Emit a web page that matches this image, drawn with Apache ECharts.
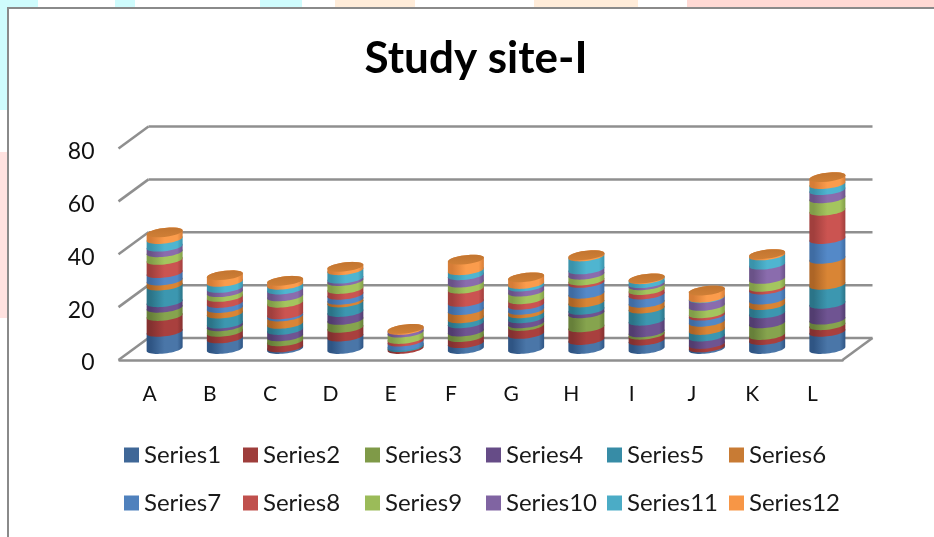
<!DOCTYPE html>
<html>
<head>
<meta charset="utf-8">
<style>html,body{margin:0;padding:0;background:#fff}#chart{width:934px;height:537px}</style>
<script src="https://cdn.jsdelivr.net/npm/echarts@6/dist/echarts.min.js"></script>
</head>
<body>
<div id="chart"></div>
<script>
// Categories and per-site values for each series
const categories = ['A','B','C','D','E','F','G','H','I','J','K','L'];
const yTicks = [0,20,40,60,80];
const series1  = [6.5,4.0,0.6,4.7,0.0,2.2,5.7,3.4,3.2,0.6,3.4,6.5];
const series2  = [6.0,2.5,2.3,3.3,0.7,2.3,3.0,4.8,2.2,1.3,1.9,2.5];
const series3  = [3.1,2.1,1.9,3.0,0.0,2.1,1.0,5.3,0.9,0.0,4.4,2.1];
const series4  = [2.1,1.0,2.4,3.0,0.0,3.1,1.9,1.3,4.4,2.8,3.8,6.0];
const series5  = [6.3,3.8,2.3,3.6,0.6,1.9,1.9,2.8,4.6,2.5,3.1,7.2];
const series6  = [1.9,2.1,2.8,1.0,0.0,3.1,1.3,3.3,2.2,3.1,2.1,9.8];
const series7  = [2.8,1.9,0.8,1.9,1.5,3.1,1.9,4.1,3.1,2.3,3.8,7.5];
const series8  = [5.0,2.3,4.4,2.2,1.0,5.0,2.1,0.9,1.7,0.9,1.0,10.7];
const series9  = [2.9,1.8,2.4,3.0,2.4,2.3,2.9,2.2,1.8,2.8,3.0,4.7];
const series10 = [2.1,1.6,2.6,0.9,1.0,2.8,1.9,2.0,0.8,2.9,5.4,3.1];
const series11 = [2.9,2.3,1.8,3.2,0.0,1.9,1.0,4.9,1.5,0.2,3.5,2.3];
const series12 = [2.5,2.5,1.5,1.3,0.4,4.0,2.5,0.5,0.3,2.7,0.5,2.6];
const seriesValues = [series1,series2,series3,series4,series5,series6,series7,series8,series9,series10,series11,series12];

const seriesNames = seriesValues.map((_, i) => 'Series' + (i + 1));
// [edge shade, mid shade] of each cylinder band
const bandColors = [
  ['#2f5584','#4a76a8'],['#843130','#a9403e'],['#67803a','#86a44e'],['#523d70','#6f5492'],
  ['#2b7488','#3c97b0'],['#ad6526','#d98535'],['#3f6ca3','#5489c8'],['#a13f3d','#cb5451'],
  ['#829e49','#a4c55e'],['#6a5288','#8a6cad'],['#3a93ab','#4fb5d0'],['#d67d37','#fb9c4c']
];
const legendColors = ['#3f6797','#9e3d3b','#7f9a48','#664c87','#378ca6','#c87b34','#4f81bd','#c0504d','#9bbb59','#8064a2','#4bacc6','#f79646'];
const capColor = ['#c27530','#cf7f36'];

// Oblique projection: the floor recedes by this much from front to back
const DEPTH_X = 30, DEPTH_Y = -22;
const BAR_DEPTH = 0.5, RX = 18, RY = 4.5, SHEAR = 2;
const GRID = {left: 119.5, width: 723, top: 148.5, height: 211.5};

// Points along a sheared rim; positive sine is the side facing the viewer
function rimPoints(c, from, to) {
  const pts = [];
  for (let k = 0; k <= 24; k++) {
    const t = from + (to - from) * k / 24;
    const cos = Math.cos(t);
    pts.push([c[0] + RX * cos, c[1] + RY * Math.sin(t) - SHEAR * cos]);
  }
  return pts;
}

function sideGradient(pair) {
  return new echarts.graphic.LinearGradient(0, 0, 1, 0, [
    {offset: 0, color: pair[0]},
    {offset: 0.12, color: pair[0]},
    {offset: 0.5, color: pair[1]},
    {offset: 0.85, color: pair[1]},
    {offset: 1, color: pair[0]}
  ]);
}

function cylinderBand(seriesIndex) {
  return function (params, api) {
    const base = api.value(1), top = api.value(2);
    if (top <= base) return null;
    const offX = DEPTH_X * BAR_DEPTH, offY = DEPTH_Y * BAR_DEPTH;
    const b = api.coord([api.value(0), base]);
    const t = api.coord([api.value(0), top]);
    const bc = [b[0] + offX, b[1] + offY];
    const tc = [t[0] + offX, t[1] + offY];
    // Front of the lower rim, then the back of the upper rim
    const outline = rimPoints(bc, Math.PI, 0).concat(rimPoints(tc, 0, -Math.PI));
    const children = [{
      type: 'polygon',
      shape: {points: outline},
      style: {fill: sideGradient(bandColors[seriesIndex])}
    }];
    if (seriesIndex === 11) {
      children.push({
        type: 'polygon',
        shape: {points: rimPoints(tc, 0, Math.PI * 2)},
        style: {
          fill: new echarts.graphic.LinearGradient(0, 0, 0, 1, [
            {offset: 0, color: capColor[0]},
            {offset: 1, color: capColor[1]}
          ])
        }
      });
    }
    return {type: 'group', children: children};
  };
}

// Cumulative stacking per category
const running = categories.map(() => 0);
const bandSeries = seriesValues.map((values, s) => {
  const data = values.map((v, i) => {
    const row = [i, running[i], running[i] + v];
    running[i] += v;
    return row;
  });
  return {
    type: 'custom',
    name: seriesNames[s],
    renderItem: cylinderBand(s),
    encode: {x: 0, y: [1, 2]},
    itemStyle: {color: legendColors[s]},
    data: data,
    z: 10 + s,
    silent: true
  };
});

// Back-wall gridlines and the receding lines joining them to the front plane
const wallSeries = {
  type: 'custom',
  renderItem: function (params, api) {
    const v = api.value(0);
    const p = api.coord([0, v]);
    const right = GRID.left + GRID.width;
    const style = {stroke: '#8f8f8f', lineWidth: 2.5};
    const children = [
      {type: 'line', shape: {x1: GRID.left - 1, y1: p[1], x2: GRID.left - 1 + DEPTH_X, y2: p[1] + DEPTH_Y}, style},
      {type: 'line', shape: {x1: GRID.left - 1 + DEPTH_X, y1: p[1] + DEPTH_Y, x2: right + DEPTH_X, y2: p[1] + DEPTH_Y}, style}
    ];
    if (v === 0) {
      children.push({type: 'line', shape: {x1: right, y1: p[1], x2: right + DEPTH_X, y2: p[1] + DEPTH_Y}, style});
    }
    return {type: 'group', children};
  },
  data: yTicks.map(v => [v]),
  encode: {y: 0},
  z: 2,
  silent: true
};

// Two-row legend laid out as six fixed columns
const legendColumns = [124, 243, 365, 486, 607, 729];
const legends = legendColumns.map((x, c) => ({
  left: x,
  top: 443,
  padding: 0,
  orient: 'vertical',
  itemWidth: 15,
  itemHeight: 15,
  itemGap: 24,
  selectedMode: false,
  icon: 'rect',
  data: [seriesNames[c], seriesNames[c + 6]],
  textStyle: {fontFamily: 'Lato', fontSize: 24, color: '#1a1a1a'}
}));

const chart = echarts.init(document.getElementById('chart'), null, {renderer: 'canvas'});
chart.setOption({
  animation: false,
  backgroundColor: '#fff',
  title: {
    text: 'Study site-I',
    left: 471,
    top: 32,
    textAlign: 'center',
    textStyle: {fontFamily: 'Lato', fontWeight: 700, fontSize: 44, color: '#000'}
  },
  legend: legends,
  grid: Object.assign({containLabel: false}, GRID),
  xAxis: {
    type: 'category',
    data: categories,
    axisTick: {show: false},
    axisLine: {lineStyle: {color: '#8f8f8f', width: 2.5}},
    axisLabel: {fontFamily: 'Lato', fontSize: 21, color: '#111', margin: 24}
  },
  yAxis: {
    type: 'value',
    min: 0,
    max: 80,
    interval: 20,
    axisLine: {show: false},
    axisTick: {show: false},
    splitLine: {show: false},
    axisLabel: {fontFamily: 'Lato', fontSize: 23, color: '#111', margin: 25, verticalAlign: 'top', lineHeight: 6}
  },
  // Page backdrop strips and the chart frame
  graphic: [
    ...[[0,0,38,7,'#cffcfd'],[115,0,20,7,'#cffcfd'],[260,0,42,7,'#cffcfd'],[335,0,80,7,'#ffecd9'],
        [534,0,104,7,'#ffecd9'],[687,0,247,7,'#ffd9d4'],[0,0,7,110,'#cffcfd'],[0,152,7,166,'#ffe2e0']]
      .map(r => ({type: 'rect', silent: true, z: 0, shape: {x: r[0], y: r[1], width: r[2], height: r[3]}, style: {fill: r[4]}})),
    {type: 'rect', silent: true, z: 1, shape: {x: 7, y: 7, width: 927, height: 2}, style: {fill: '#8a8a8a'}},
    {type: 'rect', silent: true, z: 1, shape: {x: 7, y: 7, width: 2, height: 530}, style: {fill: '#8a8a8a'}}
  ],
  series: [wallSeries].concat(bandSeries)
});
</script>
</body>
</html>
